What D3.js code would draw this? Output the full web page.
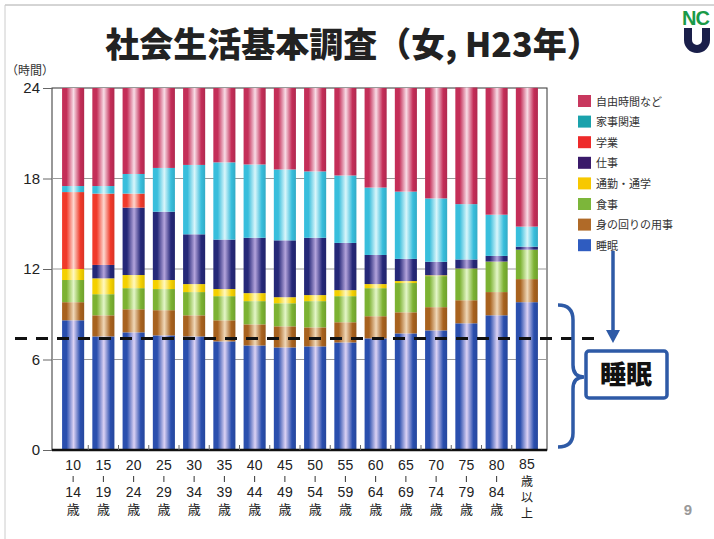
<!DOCTYPE html>
<html><head><meta charset="utf-8">
<script src="https://cdnjs.cloudflare.com/ajax/libs/d3/7.8.5/d3.min.js"></script>
<style>
html,body{margin:0;padding:0;background:#fff;}
svg{display:block;}
</style></head>
<body>
<svg id="chart" width="714" height="539"></svg>
<script>
// ---------- data ----------
const categories = ["10-14","15-19","20-24","25-29","30-34","35-39","40-44","45-49","50-54","55-59","60-64","65-69","70-74","75-79","80-84","85+"];
const labelLines = [
  ["10","|","14","歳"],["15","|","19","歳"],["20","|","24","歳"],["25","|","29","歳"],
  ["30","|","34","歳"],["35","|","39","歳"],["40","|","44","歳"],["45","|","49","歳"],
  ["50","|","54","歳"],["55","|","59","歳"],["60","|","64","歳"],["65","|","69","歳"],
  ["70","|","74","歳"],["75","|","79","歳"],["80","|","84","歳"],["85","歳","以","上"]
];
const seriesNames = ["睡眠","身の回りの用事","食事","通勤・通学","仕事","学業","家事関連","自由時間など"];
const sleep     = [8.60,7.53,7.80,7.60,7.53,7.20,6.93,6.80,6.87,7.13,7.40,7.73,7.93,8.40,8.93,9.80];
const personal  = [1.20,1.40,1.53,1.67,1.40,1.40,1.40,1.40,1.26,1.34,1.47,1.40,1.54,1.53,1.54,1.53];
const meal      = [1.47,1.40,1.40,1.40,1.54,1.60,1.54,1.53,1.74,1.73,1.86,1.94,2.06,2.07,2.00,1.94];
const commute   = [0.73,1.05,0.87,0.60,0.53,0.47,0.53,0.40,0.40,0.40,0.27,0.13,0.05,0.03,0.02,0.01];
const work      = [0.00,0.89,4.47,4.53,3.30,3.28,3.67,3.77,3.80,3.13,1.93,1.47,0.90,0.60,0.38,0.20];
const study     = [5.10,4.73,0.93,0.00,0.00,0.00,0.00,0.00,0.00,0.00,0.00,0.00,0.00,0.00,0.00,0.00];
const housework = [0.40,0.50,1.30,2.90,4.60,5.12,4.86,4.70,4.40,4.47,4.47,4.46,4.20,3.67,2.73,1.33];
const freeTime  = [6.50,6.50,5.70,5.30,5.10,4.93,5.07,5.40,5.53,5.80,6.60,6.87,7.33,7.73,8.40,9.20];
const yTicks = [0,6,12,18,24];
const referenceSleep = 7.4;
const legendOrder = ["自由時間など","家事関連","学業","仕事","通勤・通学","食事","身の回りの用事","睡眠"];

const seriesValues = [sleep,personal,meal,commute,work,study,housework,freeTime];
const table = categories.map((c,i)=>{
  const row = {cat:c};
  seriesNames.forEach((s,j)=>{ row[s] = seriesValues[j][i]; });
  return row;
});

// styles
const colors = {
  "睡眠":        {edge:"#2a4fae", mid:"#dcd2f4", sw:"#2f5cc0"},
  "身の回りの用事":{edge:"#a8621e", mid:"#f0d8b8", sw:"#b06a28"},
  "食事":        {edge:"#7cb232", mid:"#e4f6c8", sw:"#7cb63a"},
  "通勤・通学":   {edge:"#f4d000", mid:"#fff8c0", sw:"#f7c800"},
  "仕事":        {edge:"#252878", mid:"#b4a4dc", sw:"#3a1a6a"},
  "学業":        {edge:"#f03a2a", mid:"#fdd8d0", sw:"#ee2a2a"},
  "家事関連":     {edge:"#38bedc", mid:"#daf6fb", sw:"#1aa2ac"},
  "自由時間など": {edge:"#c42e58", mid:"#f8dce6", sw:"#c8385e"}
};

const svg = d3.select("#chart");
const defs = svg.append("defs");
seriesNames.forEach((s,i)=>{
  const g = defs.append("linearGradient").attr("id","g"+i).attr("x1","0").attr("x2","1").attr("y1","0").attr("y2","0");
  g.append("stop").attr("offset","0%").attr("stop-color",colors[s].edge);
  g.append("stop").attr("offset","20%").attr("stop-color",colors[s].edge);
  g.append("stop").attr("offset","52%").attr("stop-color",colors[s].mid);
  g.append("stop").attr("offset","82%").attr("stop-color",colors[s].edge);
  g.append("stop").attr("offset","100%").attr("stop-color",d3.color(colors[s].edge).darker(0.3));
});

// slide frame
svg.append("line").attr("x1",5).attr("x2",714).attr("y1",5).attr("y2",5).attr("stroke","#aaa").attr("stroke-width",1);
svg.append("line").attr("x1",5).attr("x2",5).attr("y1",5).attr("y2",539).attr("stroke","#ccc").attr("stroke-width",1);

// title
svg.append("text").attr("x",353).attr("y",57).attr("text-anchor","middle")
  .attr("font-family","'Noto Sans CJK JP', sans-serif").attr("font-weight",900)
  .attr("font-size",34).attr("fill","#222").text("社会生活基本調査（女, H23年）");

// logo
svg.append("text").attr("x",682).attr("y",25).attr("font-family","'Liberation Sans', Arial, sans-serif")
  .attr("font-weight",700).attr("font-size",20).attr("fill","#1a9a48").attr("letter-spacing",-1).text("NC");
svg.append("path").attr("d","M688,28 V40 A9,9 0 0 0 706,40 V28")
  .attr("fill","none").attr("stroke","#1a1f4a").attr("stroke-width",8);

// scales
const x = d3.scaleBand().domain(categories).range([58,542]).paddingInner(0.27).paddingOuter(0.135);
const y = d3.scaleLinear().domain([0,24]).range([450,88]);

// plot frame + grid
const frameL = 52, frameR = 547;
svg.append("rect").attr("x",frameL).attr("y",y(24)).attr("width",frameR-frameL).attr("height",y(0)-y(24))
  .attr("fill","#fff").attr("stroke","#333").attr("stroke-width",1);
svg.append("g").selectAll("line").data(yTicks.filter(t=>t>0&&t<24)).join("line")
  .attr("x1",frameL).attr("x2",frameR).attr("y1",d=>y(d)).attr("y2",d=>y(d))
  .attr("stroke","#999").attr("stroke-width",1);

// y axis
const yAxis = d3.axisLeft(y).tickValues(yTicks).tickSize(9).tickPadding(3);
const ga = svg.append("g").attr("transform",`translate(${frameL},0)`).call(yAxis);
ga.select(".domain").remove();
ga.selectAll(".tick line").attr("stroke","#666");
ga.selectAll(".tick text").attr("font-family","'Liberation Sans', Arial, sans-serif").attr("font-size",15).attr("fill","#222");
svg.append("text").attr("x",6).attr("y",75).attr("font-family","'Noto Sans CJK JP', sans-serif")
  .attr("font-size",12).attr("fill","#333").text("（時間）");

// stacked bars
const stack = d3.stack().keys(seriesNames)(table);
svg.append("g").selectAll("g").data(stack).join("g")
  .attr("fill",(d,i)=>`url(#g${i})`)
  .selectAll("rect").data(d=>d).join("rect")
  .attr("x",d=>x(d.data.cat)).attr("width",x.bandwidth())
  .attr("y",d=>y(d[1])).attr("height",d=>Math.max(0,y(d[0])-y(d[1])));

// bottom axis line + separator ticks
svg.append("line").attr("x1",frameL).attr("x2",frameR).attr("y1",y(0)).attr("y2",y(0)).attr("stroke","#111").attr("stroke-width",2.5);
const step = x.step();
svg.append("g").selectAll("line").data(categories.slice(1)).join("line")
  .attr("x1",d=>x(d)-(step-x.bandwidth())/2).attr("x2",d=>x(d)-(step-x.bandwidth())/2)
  .attr("y1",y(0)).attr("y2",y(0)-5).attr("stroke","#666");

// x labels: one multi-line text per category
const lab = svg.append("g").selectAll("g").data(categories).join("g")
  .attr("transform",d=>`translate(${x(d)+x.bandwidth()/2},0)`);
lab.each(function(d,i){
  const g = d3.select(this);
  const last = i===categories.length-1;
  const ys = last ? [469,486,502,518] : [470,482,497,514];
  const t = g.append("text").attr("text-anchor","middle").attr("fill","#222");
  labelLines[i].forEach((s,k)=>{
    if(s==="|"){
      g.append("line").attr("x1",0).attr("x2",0).attr("y1",ys[k]-6).attr("y2",ys[k]).attr("stroke","#333").attr("stroke-width",1);
    } else {
      const num = /\d/.test(s);
      t.append("tspan").attr("x",0).attr("y",ys[k])
        .attr("font-family",num?"'Liberation Sans', Arial, sans-serif":"'Noto Sans CJK JP', sans-serif")
        .attr("font-size",num?14:(last?12:13)).text(s);
    }
  });
});

// legend
const lg = svg.append("g").selectAll("g").data(legendOrder).join("g")
  .attr("transform",(d,i)=>`translate(578,${95+i*20.6})`);
lg.append("rect").attr("width",13).attr("height",12).attr("fill",d=>colors[d].sw);
lg.append("text").attr("x",18).attr("y",10.5).attr("font-family","'Noto Sans CJK JP', sans-serif")
  .attr("font-size",11).attr("fill","#333").text(d=>d);

// dashed reference line
svg.append("line").attr("x1",15).attr("x2",598).attr("y1",y(referenceSleep)).attr("y2",y(referenceSleep))
  .attr("stroke","#111").attr("stroke-width",3).attr("stroke-dasharray","12,9");

// annotation: arrow, brace, box
const blue = "#2e5aa6";
svg.append("line").attr("x1",613).attr("x2",613).attr("y1",251).attr("y2",332).attr("stroke",blue).attr("stroke-width",3.5);
svg.append("path").attr("d","M606,330 L620,330 L613,343 Z").attr("fill",blue);
svg.append("path").attr("d","M558,305 Q573,305 573,320 L573,365 Q573,377 584,377 Q573,377 573,389 L573,433 Q573,447 558,447")
  .attr("fill","none").attr("stroke",blue).attr("stroke-width",3.5);
svg.append("rect").attr("x",586).attr("y",351).attr("width",81).attr("height",47).attr("rx",3)
  .attr("fill","#fff").attr("stroke",blue).attr("stroke-width",3.5);
svg.append("text").attr("x",626).attr("y",384).attr("text-anchor","middle")
  .attr("font-family","'Noto Sans CJK JP', sans-serif").attr("font-weight",900)
  .attr("font-size",26).attr("fill","#111").text("睡眠");

// page number
svg.append("text").attr("x",688).attr("y",515).attr("text-anchor","middle")
  .attr("font-family","'Liberation Sans', Arial, sans-serif").attr("font-weight",700)
  .attr("font-size",15).attr("fill","#999").text("9");
</script>
</body></html>
